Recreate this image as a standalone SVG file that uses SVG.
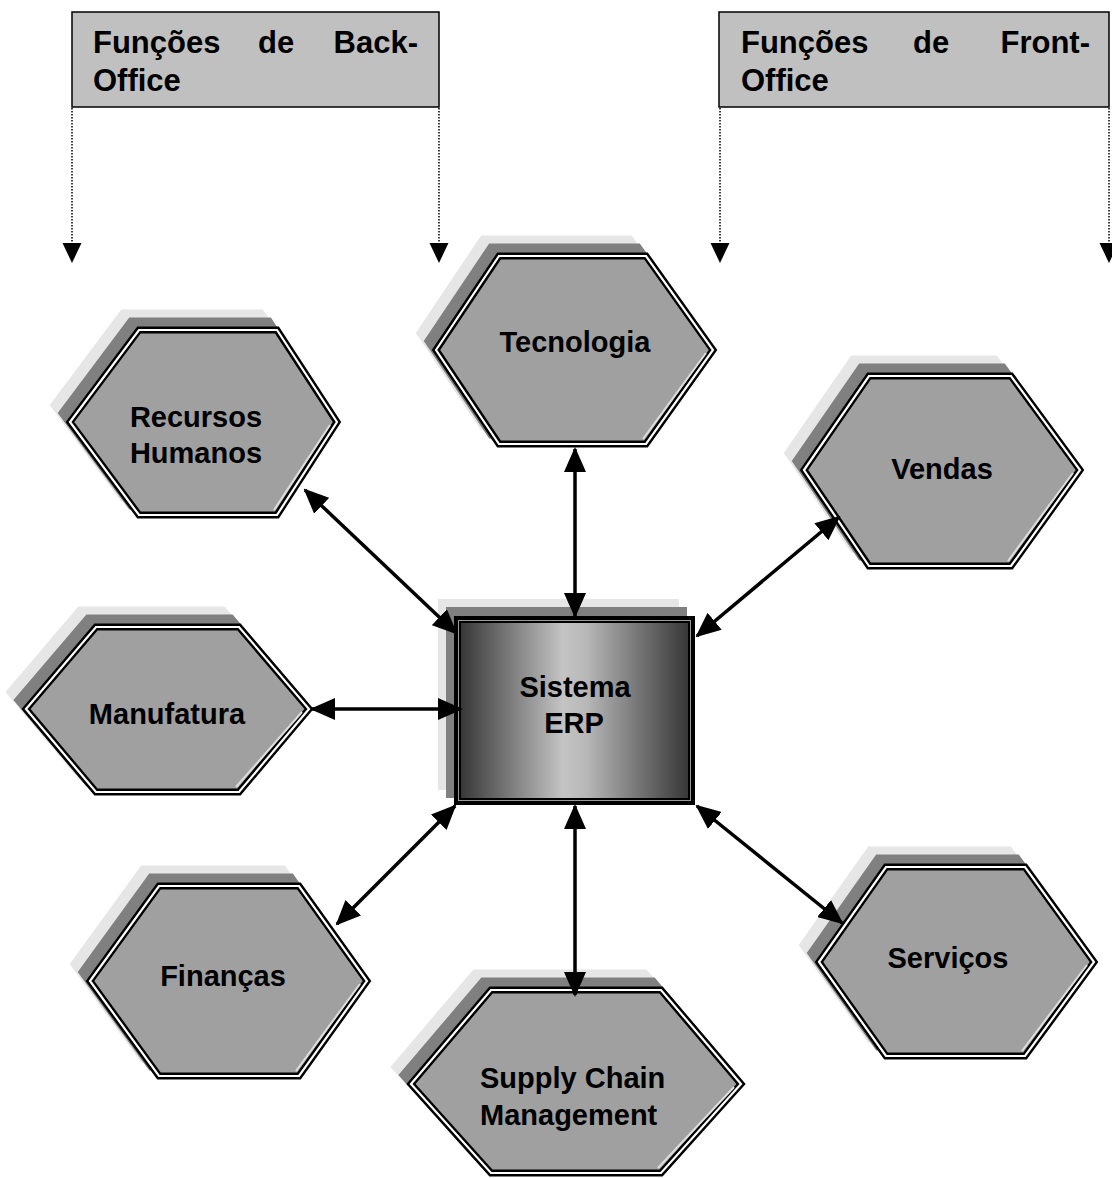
<svg xmlns="http://www.w3.org/2000/svg" xmlns:xlink="http://www.w3.org/1999/xlink" width="1112" height="1178" viewBox="0 0 1112 1178">
  <style>
    .lbl { font-family: "Liberation Sans", Arial, Helvetica, sans-serif; font-weight: bold; font-size: 29px; fill: #000; }
    .head { font-family: "Liberation Sans", Arial, Helvetica, sans-serif; font-weight: bold; font-size: 31px; fill: #000; }
    .sh-light { fill: #e6e6e6; stroke: #e6e6e6; stroke-width: 7; stroke-linejoin: miter; }
    .sh-dark { fill: #808080; stroke: #808080; stroke-width: 7; stroke-linejoin: miter; }
    .hex-body { fill: #a0a0a0; stroke: #000; stroke-width: 7; stroke-linejoin: miter; }
    .hex-gap { fill: none; stroke: #fff; stroke-width: 2.2; stroke-linejoin: miter; }
    .bevel { fill: none; stroke: #dedede; stroke-width: 2; }
    .hbox { fill: #c0c0c0; stroke: #000; stroke-width: 1.5; }
    .dots { fill: none; stroke: #000; stroke-width: 1.5; stroke-dasharray: 1.5 1.5; }
    .drop { fill: #000; }
    .link { fill: none; stroke: #000; stroke-width: 3.5; marker-start: url(#head); marker-end: url(#head); }
  </style>
  <defs>
    <marker id="head" viewBox="0 0 25 22" markerUnits="userSpaceOnUse" markerWidth="25" markerHeight="22" refX="23" refY="11" orient="auto-start-reverse">
      <path d="M0,0 L25,11 L0,22 Z" fill="#000"/>
    </marker>
    <linearGradient id="erpFill" x1="0" y1="0" x2="1" y2="0">
      <stop offset="0" stop-color="#363636"/>
      <stop offset="0.45" stop-color="#c4c4c4"/>
      <stop offset="0.55" stop-color="#b8b8b8"/>
      <stop offset="1" stop-color="#363636"/>
    </linearGradient>
    <polygon id="p-tec" points="436,350 499,256 646,256 713,350 646,444 499,444"/>
    <polygon id="p-rh" points="70,422 139,330 277,330 337,422 277,515 139,515"/>
    <polygon id="p-ven" points="804,470 869,376 1011,376 1080,470 1011,566 869,566"/>
    <polygon id="p-man" points="26,709 96,627 239,627 309,709 239,792 96,792"/>
    <polygon id="p-fin" points="90,981 159,886 299,886 367,981 299,1076 159,1076"/>
    <polygon id="p-ser" points="819,962 886,867 1025,867 1094,962 1025,1056 886,1056"/>
    <polygon id="p-scm" points="411,1084 491,990 661,990 741,1084 661,1173 491,1173"/>
  </defs>

  <!-- headings with dotted range markers -->
  <g id="back-office">
    <rect class="hbox" x="72" y="12" width="367" height="95"/>
    <text class="head" x="93" y="53">Funções</text>
    <text class="head" x="258" y="53">de</text>
    <text class="head" x="418" y="53" text-anchor="end">Back-</text>
    <text class="head" x="93" y="91">Office</text>
    <line class="dots" x1="72" y1="108" x2="72" y2="243"/>
    <line class="dots" x1="439" y1="108" x2="439" y2="243"/>
    <polygon class="drop" points="62.5,243 81.5,243 72,263"/>
    <polygon class="drop" points="429.5,243 448.5,243 439,263"/>
  </g>
  <g id="front-office">
    <rect class="hbox" x="719" y="12" width="390" height="95"/>
    <text class="head" x="741" y="53">Funções</text>
    <text class="head" x="913" y="53">de</text>
    <text class="head" x="1090" y="53" text-anchor="end">Front-</text>
    <text class="head" x="741" y="91">Office</text>
    <line class="dots" x1="720" y1="108" x2="720" y2="243"/>
    <line class="dots" x1="1109" y1="108" x2="1109" y2="243"/>
    <polygon class="drop" points="710.5,243 729.5,243 720,263"/>
    <polygon class="drop" points="1099.5,243 1118.5,243 1109,263"/>
  </g>

  <!-- function hexagons -->
  <g id="tecnologia">
    <use xlink:href="#p-tec" class="sh-light" transform="translate(-16,-17)"/>
    <use xlink:href="#p-tec" class="sh-dark" transform="translate(-8,-9)"/>
    <use xlink:href="#p-tec" class="hex-body"/>
    <use xlink:href="#p-tec" class="hex-gap"/>
    <line class="bevel" x1="706" y1="353" x2="643" y2="439"/>
    <text class="lbl" x="575" y="352" text-anchor="middle">Tecnologia</text>
  </g>
  <g id="recursos-humanos">
    <use xlink:href="#p-rh" class="sh-light" transform="translate(-16,-17)"/>
    <use xlink:href="#p-rh" class="sh-dark" transform="translate(-8,-9)"/>
    <use xlink:href="#p-rh" class="hex-body"/>
    <use xlink:href="#p-rh" class="hex-gap"/>
    <line class="bevel" x1="330" y1="425" x2="274" y2="510"/>
    <text class="lbl" x="196" y="427" text-anchor="middle">Recursos</text>
    <text class="lbl" x="196" y="463" text-anchor="middle">Humanos</text>
  </g>
  <g id="vendas">
    <use xlink:href="#p-ven" class="sh-light" transform="translate(-16,-17)"/>
    <use xlink:href="#p-ven" class="sh-dark" transform="translate(-8,-9)"/>
    <use xlink:href="#p-ven" class="hex-body"/>
    <use xlink:href="#p-ven" class="hex-gap"/>
    <line class="bevel" x1="1073" y1="473" x2="1008" y2="561"/>
    <text class="lbl" x="942" y="479" text-anchor="middle">Vendas</text>
  </g>
  <g id="manufatura">
    <use xlink:href="#p-man" class="sh-light" transform="translate(-16,-17)"/>
    <use xlink:href="#p-man" class="sh-dark" transform="translate(-8,-9)"/>
    <use xlink:href="#p-man" class="hex-body"/>
    <use xlink:href="#p-man" class="hex-gap"/>
    <line class="bevel" x1="302" y1="712" x2="236" y2="787"/>
    <text class="lbl" x="167" y="724" text-anchor="middle">Manufatura</text>
  </g>
  <g id="financas">
    <use xlink:href="#p-fin" class="sh-light" transform="translate(-16,-17)"/>
    <use xlink:href="#p-fin" class="sh-dark" transform="translate(-8,-9)"/>
    <use xlink:href="#p-fin" class="hex-body"/>
    <use xlink:href="#p-fin" class="hex-gap"/>
    <line class="bevel" x1="360" y1="984" x2="296" y2="1071"/>
    <text class="lbl" x="223" y="986" text-anchor="middle">Finanças</text>
  </g>
  <g id="servicos">
    <use xlink:href="#p-ser" class="sh-light" transform="translate(-16,-17)"/>
    <use xlink:href="#p-ser" class="sh-dark" transform="translate(-8,-9)"/>
    <use xlink:href="#p-ser" class="hex-body"/>
    <use xlink:href="#p-ser" class="hex-gap"/>
    <line class="bevel" x1="1087" y1="965" x2="1022" y2="1051"/>
    <text class="lbl" x="948" y="968" text-anchor="middle">Serviços</text>
  </g>
  <g id="supply-chain">
    <use xlink:href="#p-scm" class="sh-light" transform="translate(-16,-17)"/>
    <use xlink:href="#p-scm" class="sh-dark" transform="translate(-8,-9)"/>
    <use xlink:href="#p-scm" class="hex-body"/>
    <use xlink:href="#p-scm" class="hex-gap"/>
    <line class="bevel" x1="734" y1="1087" x2="658" y2="1168"/>
    <text class="lbl" x="480" y="1088">Supply Chain</text>
    <text class="lbl" x="480" y="1125">Management</text>
  </g>

  <!-- central ERP block -->
  <g id="sistema-erp">
    <rect x="438" y="599" width="241" height="191" fill="#e6e6e6"/>
    <rect x="446" y="607" width="241" height="191" fill="#808080"/>
    <rect x="454" y="616" width="241" height="189" fill="#000"/>
    <rect x="458" y="620" width="233" height="181" fill="#9a9a9a"/>
    <rect x="460" y="622" width="229" height="177" fill="url(#erpFill)" stroke="#000" stroke-width="2"/>
    <text class="lbl" x="575" y="697" text-anchor="middle">Sistema</text>
    <text class="lbl" x="574" y="733" text-anchor="middle">ERP</text>
  </g>

  <!-- two-way links between the ERP block and each function -->
  <g id="connectors">
    <line class="link" x1="575" y1="449" x2="575" y2="616"/>
    <line class="link" x1="305" y1="490" x2="456" y2="633"/>
    <line class="link" x1="839" y1="517" x2="697" y2="636"/>
    <line class="link" x1="312" y1="709" x2="461" y2="709"/>
    <line class="link" x1="455" y1="806" x2="337" y2="924"/>
    <line class="link" x1="575" y1="806" x2="575" y2="995"/>
    <line class="link" x1="697" y1="806" x2="842" y2="923"/>
  </g>
</svg>
